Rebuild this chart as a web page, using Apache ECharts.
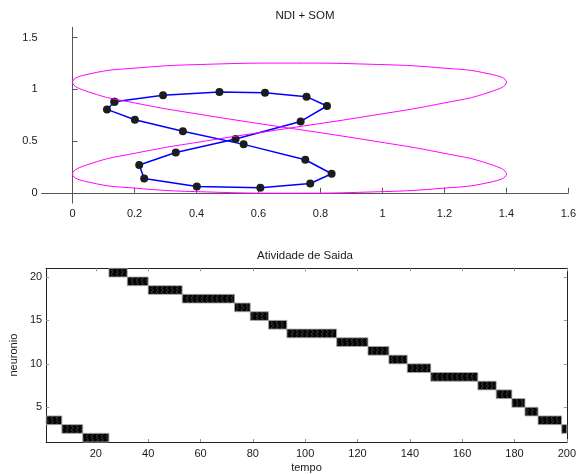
<!DOCTYPE html>
<html>
<head>
<meta charset="utf-8">
<script src="https://cdn.jsdelivr.net/npm/echarts@6/dist/echarts.min.js"></script>
<style>
  html, body { margin: 0; padding: 0; background: #fff; }
  #chart { width: 579px; height: 474px; }
</style>
</head>
<body>
<div id="chart"></div>
<script>
// ---- top panel: reference trajectory (figure-eight) and SOM neuron ring ----
const trajX = [0.700, 0.432, 0.205, 0.053, 0.000, 0.053, 0.205, 0.432, 0.700, 0.968, 1.195, 1.347,
               1.400, 1.347, 1.195, 0.968, 0.700, 0.432, 0.205, 0.053, 0.000, 0.053, 0.205, 0.432,
               0.700, 0.968, 1.195, 1.347, 1.400, 1.347, 1.195, 0.968, 0.700];
const trajY = [0.625, 0.748, 0.866, 0.974, 1.070, 1.148, 1.206, 1.242, 1.254, 1.242, 1.206, 1.148,
               1.070, 0.974, 0.866, 0.748, 0.625, 0.502, 0.384, 0.276, 0.180, 0.102, 0.044, 0.008,
               -0.004, 0.008, 0.044, 0.102, 0.180, 0.276, 0.384, 0.502, 0.625];

const somX = [0.135, 0.292, 0.474, 0.621, 0.755, 0.821, 0.736, 0.526, 0.333, 0.215,
              0.231, 0.401, 0.606, 0.767, 0.836, 0.751, 0.552, 0.356, 0.201, 0.111];
const somY = [0.881, 0.942, 0.974, 0.968, 0.929, 0.839, 0.690, 0.519, 0.390, 0.268,
              0.139, 0.061, 0.048, 0.090, 0.184, 0.319, 0.468, 0.594, 0.706, 0.806];

const topXTicks = [0, 0.2, 0.4, 0.6, 0.8, 1, 1.2, 1.4, 1.6];
const topYTicks = [0, 0.5, 1, 1.5];

// ---- bottom panel: winning neuron over time (runs of constant winner) ----
const winner   = [3, 2, 1, 20, 19, 18, 17, 16, 15, 14, 13, 12, 11, 10, 9, 8, 7, 6, 5, 4, 3, 2];
const runStart = [1, 7, 15, 25, 32, 40, 53, 73, 79, 86, 93, 112, 124, 132, 139, 148, 166, 173, 179, 184, 189, 198];
const runEnd   = [7, 15, 25, 32, 40, 53, 73, 79, 86, 93, 112, 124, 132, 139, 148, 166, 173, 179, 184, 189, 198, 200];

const botXTicks = [20, 40, 60, 80, 100, 120, 140, 160, 180, 200];
const botYTicks = [5, 10, 15, 20];

// closed loops
const trajData = trajX.map((x, i) => [x, trajY[i]]);
const somData = somX.map((x, i) => [x, somY[i]]);
somData.push(somData[0]);
const runData = winner.map((n, i) => [runStart[i], runEnd[i], n]);

// dark textured fill for the activity cells
const tile = document.createElement('canvas');
tile.width = 5; tile.height = 6;
(function () {
  const c = tile.getContext('2d');
  c.fillStyle = '#050505';
  c.fillRect(0, 0, 5, 6);
  c.strokeStyle = '#3c3c3c';
  c.lineWidth = 1;
  c.beginPath();
  c.moveTo(1, 0); c.lineTo(3.5, 2); c.lineTo(1, 4); c.lineTo(3.5, 6);
  c.stroke();
})();

const FONT = 'Liberation Sans, Arial, sans-serif';
const labelStyle = { color: '#1a1a1a', fontSize: 11, fontFamily: FONT };

const chart = echarts.init(document.getElementById('chart'), null, { renderer: 'canvas' });

chart.setOption({
  backgroundColor: '#ffffff',
  animation: false,
  graphic: [
    { type: 'text', x: 305, y: 16, style: { text: 'NDI + SOM', fill: '#1a1a1a', font: '11.5px ' + FONT, textAlign: 'center', textVerticalAlign: 'middle' } },
    { type: 'text', x: 305, y: 256, style: { text: 'Atividade de Saida', fill: '#1a1a1a', font: '11.5px ' + FONT, textAlign: 'center', textVerticalAlign: 'middle' } }
  ],
  grid: [
    { left: 41.6, top: 27.3, width: 528.4, height: 175.8 },
    { left: 41.5, top: 268.3, width: 528, height: 175.7 }
  ],
  xAxis: [
    {
      gridIndex: 0, type: 'value', min: -0.1, max: 1.6,
      axisLine: { show: true, lineStyle: { color: '#555', width: 1 } },
      axisTick: { show: true, inside: true, length: 5, customValues: topXTicks, lineStyle: { color: '#555' } },
      axisLabel: { ...labelStyle, margin: 5, customValues: topXTicks, formatter: v => String(+v.toFixed(1)) },
      splitLine: { show: false }
    },
    {
      gridIndex: 1, type: 'value', min: 1, max: 200,
      name: 'tempo', nameLocation: 'middle', nameGap: 20,
      nameTextStyle: { color: '#1a1a1a', fontSize: 11, fontFamily: FONT },
      axisLine: { show: true, lineStyle: { color: '#222', width: 1 } },
      axisTick: { show: true, inside: true, length: 3, customValues: botXTicks, lineStyle: { color: '#999' } },
      axisLabel: { ...labelStyle, margin: 6, customValues: botXTicks },
      splitLine: { show: false }
    },
    {
      gridIndex: 1, type: 'value', min: 1, max: 200, position: 'top',
      axisLine: { show: true, lineStyle: { color: '#222', width: 1 } },
      axisTick: { show: true, inside: true, length: 3, customValues: botXTicks, lineStyle: { color: '#999' } },
      axisLabel: { show: false },
      splitLine: { show: false }
    }
  ],
  yAxis: [
    {
      gridIndex: 0, type: 'value', min: -0.1, max: 1.6,
      axisLine: { show: true, lineStyle: { color: '#555', width: 1 } },
      axisTick: { show: true, inside: true, length: 5, customValues: topYTicks, lineStyle: { color: '#555' } },
      axisLabel: { ...labelStyle, margin: 4, customValues: topYTicks, formatter: v => String(+v.toFixed(1)) },
      splitLine: { show: false }
    },
    {
      gridIndex: 1, type: 'value', min: 1, max: 21,
      name: 'neuronio', nameLocation: 'middle', nameGap: 22,
      nameTextStyle: { color: '#1a1a1a', fontSize: 11, fontFamily: FONT },
      axisLine: { show: true, lineStyle: { color: '#222', width: 1 } },
      axisTick: { show: true, inside: true, length: 3, customValues: botYTicks, lineStyle: { color: '#999' } },
      axisLabel: { ...labelStyle, margin: 4, customValues: botYTicks },
      splitLine: { show: false }
    },
    {
      gridIndex: 1, type: 'value', min: 1, max: 21, position: 'right',
      axisLine: { show: true, lineStyle: { color: '#222', width: 1 } },
      axisTick: { show: true, inside: true, length: 3, customValues: botYTicks, lineStyle: { color: '#999' } },
      axisLabel: { show: false },
      splitLine: { show: false }
    }
  ],
  series: [
    {
      // SOM neuron ring
      type: 'line', xAxisIndex: 0, yAxisIndex: 0,
      data: somData,
      symbol: 'circle', symbolSize: 8, showSymbol: true,
      itemStyle: { color: '#1c1c1c', borderWidth: 0 },
      lineStyle: { color: '#0000ff', width: 1.5 },
      z: 3
    },
    {
      // figure-eight input trajectory
      type: 'line', xAxisIndex: 0, yAxisIndex: 0,
      data: trajData,
      smooth: 0.5, showSymbol: false,
      lineStyle: { color: '#ff00ff', width: 1 },
      z: 4
    },
    {
      // winning neuron activity
      type: 'custom', xAxisIndex: 1, yAxisIndex: 1,
      data: runData,
      encode: { x: [0, 1], y: 2 },
      renderItem: function (params, api) {
        const a = api.coord([api.value(0), api.value(2) + 1]);
        const b = api.coord([api.value(1), api.value(2)]);
        return {
          type: 'rect',
          shape: { x: a[0], y: a[1], width: b[0] - a[0], height: b[1] - a[1] },
          style: { fill: { image: tile, repeat: 'repeat' }, stroke: '#a8a8a8', lineWidth: 0.8 }
        };
      },
      z: 2
    }
  ]
});
</script>
</body>
</html>
